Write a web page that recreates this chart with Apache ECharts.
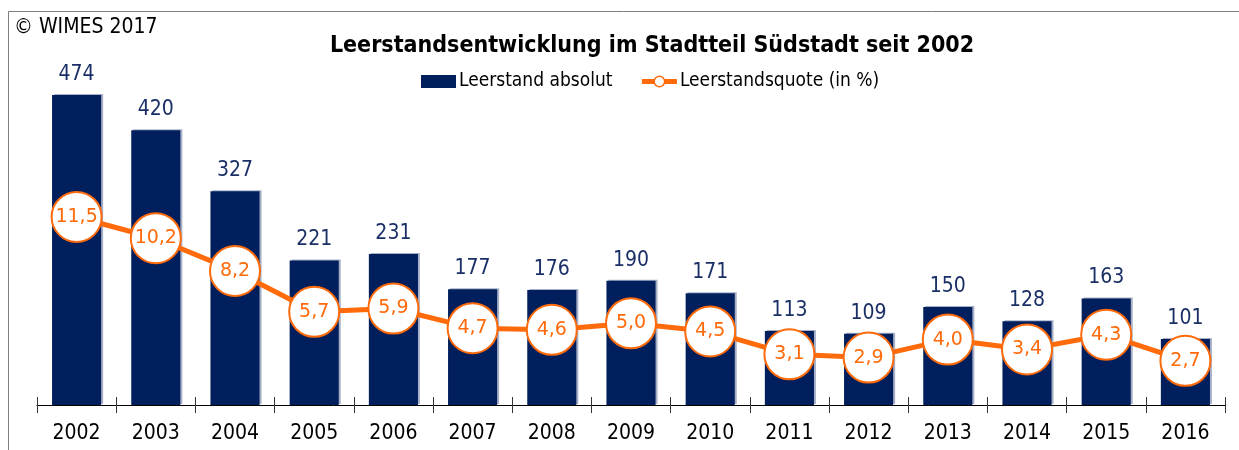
<!DOCTYPE html>
<html>
<head>
<meta charset="utf-8">
<script src="https://cdn.jsdelivr.net/npm/echarts@6/dist/echarts.min.js"></script>
<style>
  html, body { margin: 0; padding: 0; background: #fff; }
  #chart { width: 1239px; height: 450px; }
</style>
</head>
<body>
<div id="chart"></div>
<script>
const years = ['2002', '2003', '2004', '2005', '2006', '2007', '2008', '2009', '2010', '2011', '2012', '2013', '2014', '2015', '2016']
const leerstandAbsolut = [474, 420, 327, 221, 231, 177, 176, 190, 171, 113, 109, 150, 128, 163, 101]
const leerstandsquote = [11.5, 10.2, 8.2, 5.7, 5.9, 4.7, 4.6, 5.0, 4.5, 3.1, 2.9, 4.0, 3.4, 4.3, 2.7]

const FONT = '"DejaVu Sans Condensed", "DejaVu Sans", sans-serif'
const NAVY = '#001f5c'
const ORANGE = '#ff6a0a'

const chart = echarts.init(document.getElementById('chart'))

chart.setOption({
  animation: false,
  title: [
    {
      text: 'Leerstandsentwicklung im Stadtteil Südstadt seit 2002',
      left: 647,
      textAlign: 'center',
      top: 30,
      textStyle: { fontFamily: FONT, fontWeight: 'bold', fontSize: 23, color: '#000' }
    },
    {
      text: '© WIMES 2017',
      left: 9,
      top: 12,
      textStyle: { fontFamily: FONT, fontWeight: 'normal', fontSize: 21, color: '#000' }
    }
  ],
  legend: {
    left: 416,
    top: 67,
    itemWidth: 35,
    itemHeight: 13,
    itemGap: 27,
    textStyle: { fontFamily: FONT, fontSize: 19, color: '#000', padding: [0, 0, 0, -2] },
    data: [
      { name: 'Leerstand absolut', icon: 'rect' },
      {
        name: 'Leerstandsquote (in %)',
        lineStyle: { width: 5, color: ORANGE },
        itemStyle: { color: '#fff', borderColor: ORANGE, borderWidth: 1.5 }
      }
    ]
  },
  grid: { left: 37, right: 14, top: 78, bottom: 45 },
  xAxis: [
    {
      type: 'category',
      data: years,
      axisLine: { lineStyle: { color: '#000', width: 1 } },
      axisTick: { show: true, length: 8, lineStyle: { color: '#333' } },
      axisLabel: { fontFamily: FONT, fontSize: 21, color: '#000', margin: 18 }
    },
    {
      type: 'category',
      data: years,
      position: 'bottom',
      axisLine: { show: false },
      axisTick: { show: true, inside: true, length: 8, lineStyle: { color: '#333' } },
      axisLabel: { show: false }
    }
  ],
  yAxis: [
    { type: 'value', min: 0, max: 500, show: false, splitLine: { show: false } },
    { type: 'value', min: 0, max: 20, show: false, splitLine: { show: false } }
  ],
  series: [
    {
      name: 'Leerstand absolut',
      type: 'bar',
      data: leerstandAbsolut,
      barWidth: '62%',
      itemStyle: {
        color: NAVY,
        shadowColor: 'rgba(60,80,130,0.45)',
        shadowOffsetX: 2,
        shadowOffsetY: -1,
        shadowBlur: 0
      },
      label: {
        show: true,
        position: 'top',
        distance: 10,
        fontFamily: FONT,
        fontSize: 21,
        color: '#1a2f66'
      },
      z: 1
    },
    {
      name: 'Leerstandsquote (in %)',
      type: 'line',
      yAxisIndex: 1,
      data: leerstandsquote,
      symbol: 'circle',
      symbolSize: 50,
      lineStyle: { color: ORANGE, width: 5 },
      itemStyle: { color: '#fff', borderColor: ORANGE, borderWidth: 2 },
      label: {
        show: true,
        position: 'inside',
        fontFamily: '"DejaVu Sans", sans-serif',
        fontSize: 19,
        color: ORANGE,
        formatter: p => p.value.toFixed(1).replace('.', ',')
      },
      z: 3
    }
  ],
  graphic: [
    {
      type: 'polyline',
      shape: { points: [[8.5, 450], [8.5, 11.5], [1239, 11.5]] },
      style: { stroke: '#7f7f7f', lineWidth: 1, fill: null },
      silent: true
    }
  ]
})
</script>
</body>
</html>
